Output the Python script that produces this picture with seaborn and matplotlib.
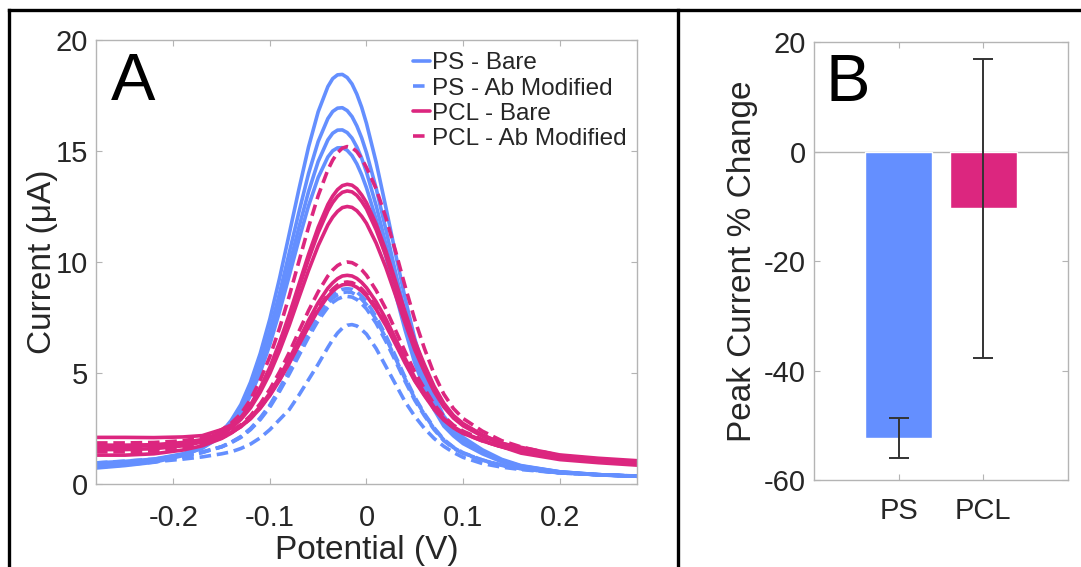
import matplotlib
matplotlib.use("Agg")
import matplotlib.pyplot as plt
from matplotlib.lines import Line2D
import seaborn as sns
import pandas as pd

# ---------------- data ----------------
potential = [-0.28, -0.25, -0.22, -0.19, -0.17, -0.15, -0.14, -0.13, -0.12, -0.11,
             -0.10, -0.09, -0.08, -0.07, -0.06, -0.05, -0.04, -0.035, -0.03, -0.025,
             -0.02, -0.015, -0.01, -0.005, 0.0, 0.01, 0.02, 0.03, 0.04, 0.05,
             0.06, 0.07, 0.08, 0.09, 0.10, 0.12, 0.14, 0.16, 0.20, 0.24, 0.28]

ps_bare = [
    [0.95, 1.02, 1.12, 1.36, 1.68, 2.33, 2.87, 3.58, 4.59, 5.88, 7.44, 9.27, 11.26, 13.27, 15.18, 16.77, 17.90, 18.26, 18.43, 18.45,
     18.31, 18.02, 17.56, 16.97, 16.24, 14.49, 12.47, 10.38, 8.36, 6.54, 5.11, 3.96, 3.06, 2.51, 2.10, 1.54, 1.11, 0.83, 0.55, 0.42, 0.35],
    [0.85, 0.95, 1.10, 1.34, 1.65, 2.25, 2.74, 3.39, 4.32, 5.50, 6.92, 8.59, 10.41, 12.24, 13.98, 15.43, 16.46, 16.78, 16.93, 16.95,
     16.82, 16.55, 16.13, 15.59, 14.92, 13.32, 11.47, 9.55, 7.71, 6.04, 4.74, 3.68, 2.85, 2.35, 1.97, 1.46, 1.06, 0.81, 0.55, 0.42, 0.35],
    [0.72, 0.83, 0.98, 1.28, 1.63, 2.19, 2.66, 3.27, 4.14, 5.24, 6.57, 8.13, 9.84, 11.55, 13.17, 14.53, 15.50, 15.80, 15.94, 15.95,
     15.83, 15.58, 15.18, 14.67, 14.05, 12.54, 10.81, 9.01, 7.27, 5.71, 4.49, 3.50, 2.72, 2.25, 1.89, 1.41, 1.03, 0.79, 0.54, 0.41, 0.35],
    [0.80, 0.90, 1.04, 1.31, 1.61, 2.15, 2.59, 3.17, 3.99, 5.03, 6.29, 7.77, 9.38, 11.00, 12.53, 13.81, 14.73, 15.01, 15.14, 15.15,
     15.03, 14.79, 14.42, 13.93, 13.34, 11.92, 10.27, 8.57, 6.93, 5.45, 4.29, 3.35, 2.61, 2.17, 1.82, 1.36, 1.00, 0.77, 0.53, 0.41, 0.35],
]
ps_ab = [
    [0.85, 0.95, 1.07, 1.25, 1.42, 1.68, 1.88, 2.14, 2.50, 2.98, 3.56, 4.30, 5.12, 6.00, 6.86, 7.65, 8.29, 8.51, 8.67, 8.77,
     8.80, 8.77, 8.65, 8.46, 8.22, 7.53, 6.69, 5.76, 4.80, 3.91, 3.17, 2.53, 2.01, 1.66, 1.41, 1.08, 0.85, 0.69, 0.50, 0.42, 0.35],
    [0.75, 0.86, 0.99, 1.20, 1.42, 1.68, 1.88, 2.12, 2.48, 2.94, 3.52, 4.24, 5.05, 5.91, 6.75, 7.52, 8.15, 8.37, 8.52, 8.62,
     8.65, 8.62, 8.50, 8.32, 8.08, 7.41, 6.58, 5.66, 4.73, 3.85, 3.13, 2.49, 1.99, 1.64, 1.39, 1.08, 0.84, 0.69, 0.50, 0.42, 0.35],
    [0.95, 1.03, 1.12, 1.28, 1.45, 1.67, 1.86, 2.10, 2.45, 2.90, 3.46, 4.17, 4.95, 5.78, 6.61, 7.36, 7.96, 8.18, 8.33, 8.42,
     8.45, 8.42, 8.31, 8.12, 7.89, 7.24, 6.43, 5.54, 4.62, 3.77, 3.07, 2.45, 1.95, 1.61, 1.37, 1.06, 0.83, 0.68, 0.50, 0.42, 0.35],
    [0.80, 0.90, 1.00, 1.12, 1.22, 1.36, 1.45, 1.60, 1.80, 2.08, 2.45, 2.90, 3.35, 4.00, 4.70, 5.40, 6.15, 6.50, 6.80, 7.02,
     7.15, 7.18, 7.12, 6.95, 6.75, 6.10, 5.30, 4.50, 3.70, 3.05, 2.50, 2.05, 1.70, 1.42, 1.20, 0.92, 0.76, 0.65, 0.50, 0.42, 0.36],
]
pcl_bare = [
    [2.10, 2.10, 2.09, 2.12, 2.18, 2.45, 2.66, 3.00, 3.57, 4.33, 5.26, 6.38, 7.63, 8.99, 10.34, 11.57, 12.59, 12.97, 13.26, 13.44,
     13.50, 13.46, 13.30, 13.02, 12.67, 11.70, 10.51, 9.14, 7.75, 6.44, 5.37, 4.40, 3.64, 3.09, 2.72, 2.21, 1.84, 1.58, 1.23, 1.07, 0.95],
    [1.75, 1.75, 1.77, 1.87, 2.00, 2.33, 2.60, 2.97, 3.53, 4.27, 5.18, 6.26, 7.49, 8.81, 10.12, 11.32, 12.31, 12.68, 12.96, 13.14,
     13.20, 13.16, 13.00, 12.73, 12.39, 11.45, 10.28, 8.95, 7.59, 6.32, 5.28, 4.33, 3.58, 3.05, 2.69, 2.20, 1.83, 1.65, 1.31, 1.16, 1.05],
    [1.55, 1.55, 1.59, 1.72, 1.89, 2.24, 2.52, 2.91, 3.43, 4.13, 4.98, 6.00, 7.14, 8.39, 9.62, 10.74, 11.67, 12.02, 12.28, 12.45,
     12.50, 12.46, 12.31, 12.06, 11.74, 10.85, 9.76, 8.51, 7.24, 6.04, 5.06, 4.17, 3.47, 2.97, 2.62, 2.15, 1.80, 1.56, 1.22, 1.07, 0.95],
    [1.30, 1.30, 1.36, 1.53, 1.72, 2.05, 2.29, 2.62, 3.00, 3.49, 4.10, 4.82, 5.63, 6.50, 7.37, 8.17, 8.82, 9.06, 9.25, 9.37,
     9.40, 9.37, 9.26, 9.08, 8.84, 8.21, 7.44, 6.55, 5.65, 4.80, 4.10, 3.46, 2.95, 2.58, 2.32, 1.96, 1.68, 1.39, 1.10, 0.96, 0.85],
    [1.70, 1.70, 1.72, 1.81, 1.92, 2.15, 2.33, 2.58, 2.94, 3.41, 3.99, 4.67, 5.43, 6.26, 7.08, 7.83, 8.45, 8.68, 8.86, 8.97,
     9.00, 8.97, 8.86, 8.69, 8.47, 7.87, 7.14, 6.30, 5.44, 4.64, 3.98, 3.36, 2.88, 2.53, 2.28, 1.94, 1.67, 1.48, 1.20, 1.06, 0.95],
]
pcl_ab = [
    [1.85, 1.85, 1.87, 1.95, 2.08, 2.44, 2.74, 3.16, 3.81, 4.68, 5.74, 7.02, 8.46, 10.02, 11.57, 12.99, 14.15, 14.59, 14.92, 15.13,
     15.20, 15.15, 14.97, 14.66, 14.25, 13.30, 12.00, 10.50, 8.90, 7.40, 6.10, 4.95, 4.05, 3.40, 2.95, 2.38, 1.95, 1.67, 1.28, 1.12, 1.00],
    [1.65, 1.65, 1.68, 1.78, 1.90, 2.17, 2.39, 2.67, 3.08, 3.62, 4.27, 5.05, 5.92, 6.87, 7.81, 8.66, 9.37, 9.64, 9.84, 9.96,
     10.00, 9.97, 9.85, 9.65, 9.40, 8.72, 7.89, 6.93, 5.96, 5.04, 4.29, 3.59, 3.05, 2.65, 2.38, 2.00, 1.70, 1.51, 1.21, 1.07, 0.95],
    [1.45, 1.45, 1.49, 1.63, 1.79, 2.07, 2.30, 2.59, 2.95, 3.43, 4.01, 4.71, 5.48, 6.32, 7.15, 7.92, 8.54, 8.78, 8.96, 9.07,
     9.10, 9.07, 8.96, 8.79, 8.56, 7.96, 7.22, 6.37, 5.50, 4.68, 4.01, 3.39, 2.90, 2.54, 2.29, 1.94, 1.67, 1.49, 1.20, 1.06, 0.92],
]

series_labels = ["PS - Bare", "PS - Ab Modified", "PCL - Bare", "PCL - Ab Modified"]

bar_categories = ["PS", "PCL"]
pct_change = [-52.3, -10.4]
pct_error = [3.7, 27.3]

x_ticks_a = [-0.2, -0.1, 0, 0.1, 0.2]
x_ticklabels_a = ["-0.2", "-0.1", "0", "0.1", "0.2"]
y_ticks_a = [0, 5, 10, 15, 20]
y_ticks_b = [-60, -40, -20, 0, 20]

# ---------------- style ----------------
BLUE = "#648FFF"
MAGENTA = "#DC267F"
SPINE = "#b4b4b4"
TXT = "#262626"

sns.set_style("white")
plt.rcParams["font.family"] = ["Liberation Sans", "DejaVu Sans"]
plt.rcParams["axes.unicode_minus"] = False
plt.rcParams["lines.solid_joinstyle"] = "round"
plt.rcParams["lines.dash_joinstyle"] = "round"

fig = plt.figure(figsize=(10.81, 5.67), dpi=100)
axA = fig.add_axes([96 / 1081, 83 / 567, 541 / 1081, 444 / 567])
axB = fig.add_axes([814 / 1081, 87 / 567, 254 / 1081, 438 / 567])

LW = 2.6
DASH = (3.2, 1.6)

groups = [
    (ps_bare, BLUE, False),
    (ps_ab, BLUE, True),
    (pcl_bare, MAGENTA, False),
    (pcl_ab, MAGENTA, True),
]
for curves, color, dashed in groups:
    for c in curves:
        df = pd.DataFrame({"Potential": potential, "Current": c})
        sns.lineplot(data=df, x="Potential", y="Current", ax=axA, color=color, lw=LW)
        if dashed:
            axA.lines[-1].set_dashes(DASH)

axA.set_xlim(-0.28, 0.28)
axA.set_ylim(0, 20)
axA.set_xticks(x_ticks_a)
axA.set_xticklabels(x_ticklabels_a)
axA.set_yticks(y_ticks_a)
axA.set_xlabel("Potential (V)", fontsize=24, color=TXT, labelpad=2)
axA.set_ylabel("Current (μA)", fontsize=24, color=TXT, labelpad=-2)

handles = [
    Line2D([0], [0], color=BLUE, lw=LW),
    Line2D([0], [0], color=BLUE, lw=LW, dashes=DASH),
    Line2D([0], [0], color=MAGENTA, lw=LW),
    Line2D([0], [0], color=MAGENTA, lw=LW, dashes=DASH),
]
axA.legend(handles, series_labels, loc="upper left", bbox_to_anchor=(0.586, 0.972),
           frameon=False, fontsize=17.5, handlelength=0.7, handletextpad=0.1,
           labelspacing=0.13, borderpad=0, borderaxespad=0)

axA.text(0.028, 0.865, "A", transform=axA.transAxes, fontsize=48,
         va="baseline", ha="left", color="black")

# ---------------- panel B ----------------
sns.barplot(x=bar_categories, y=pct_change, hue=bar_categories,
            palette=[BLUE, MAGENTA], width=0.79, saturation=1, ax=axB,
            legend=False, errorbar=None)
axB.errorbar(x=list(range(len(bar_categories))), y=pct_change, yerr=pct_error,
             fmt="none", ecolor="#333333", elinewidth=1.4, capsize=7, capthick=1.4)
axB.axhline(0, color=SPINE, lw=1.0, zorder=0.5)
axB.set_xlim(-1, 2)
axB.set_ylim(-60, 20)
axB.set_yticks(y_ticks_b)
axB.set_ylabel("Peak Current % Change", fontsize=24, color=TXT, labelpad=4)
axB.set_xlabel("")
axB.text(0.047, 0.865, "B", transform=axB.transAxes, fontsize=48,
         va="baseline", ha="left", color="black")

for ax in (axA, axB):
    for sp in ax.spines.values():
        sp.set_visible(True)
        sp.set_color(SPINE)
        sp.set_linewidth(1.0)
    ax.tick_params(direction="in", length=4, width=0.8, color=SPINE,
                   labelsize=21, labelcolor=TXT, top=True, right=True,
                   bottom=True, left=True, pad=6)
    ax.grid(False)
axA.tick_params(axis="x", pad=14.5)
axB.tick_params(axis="x", pad=12)

# ---------------- outer frame lines ----------------
fx = lambda px: px / 1081
fy = lambda py: 1 - py / 567
frame_kw = dict(color="black", lw=2.4, transform=fig.transFigure, solid_capstyle="projecting")
fig.add_artist(Line2D([fx(9), fx(1081)], [fy(10), fy(10)], **frame_kw))
fig.add_artist(Line2D([fx(9), fx(9)], [fy(10), 0], **frame_kw))
fig.add_artist(Line2D([fx(678), fx(678)], [fy(10), 0], **frame_kw))

fig.savefig("out.png", dpi=100, facecolor="white")
